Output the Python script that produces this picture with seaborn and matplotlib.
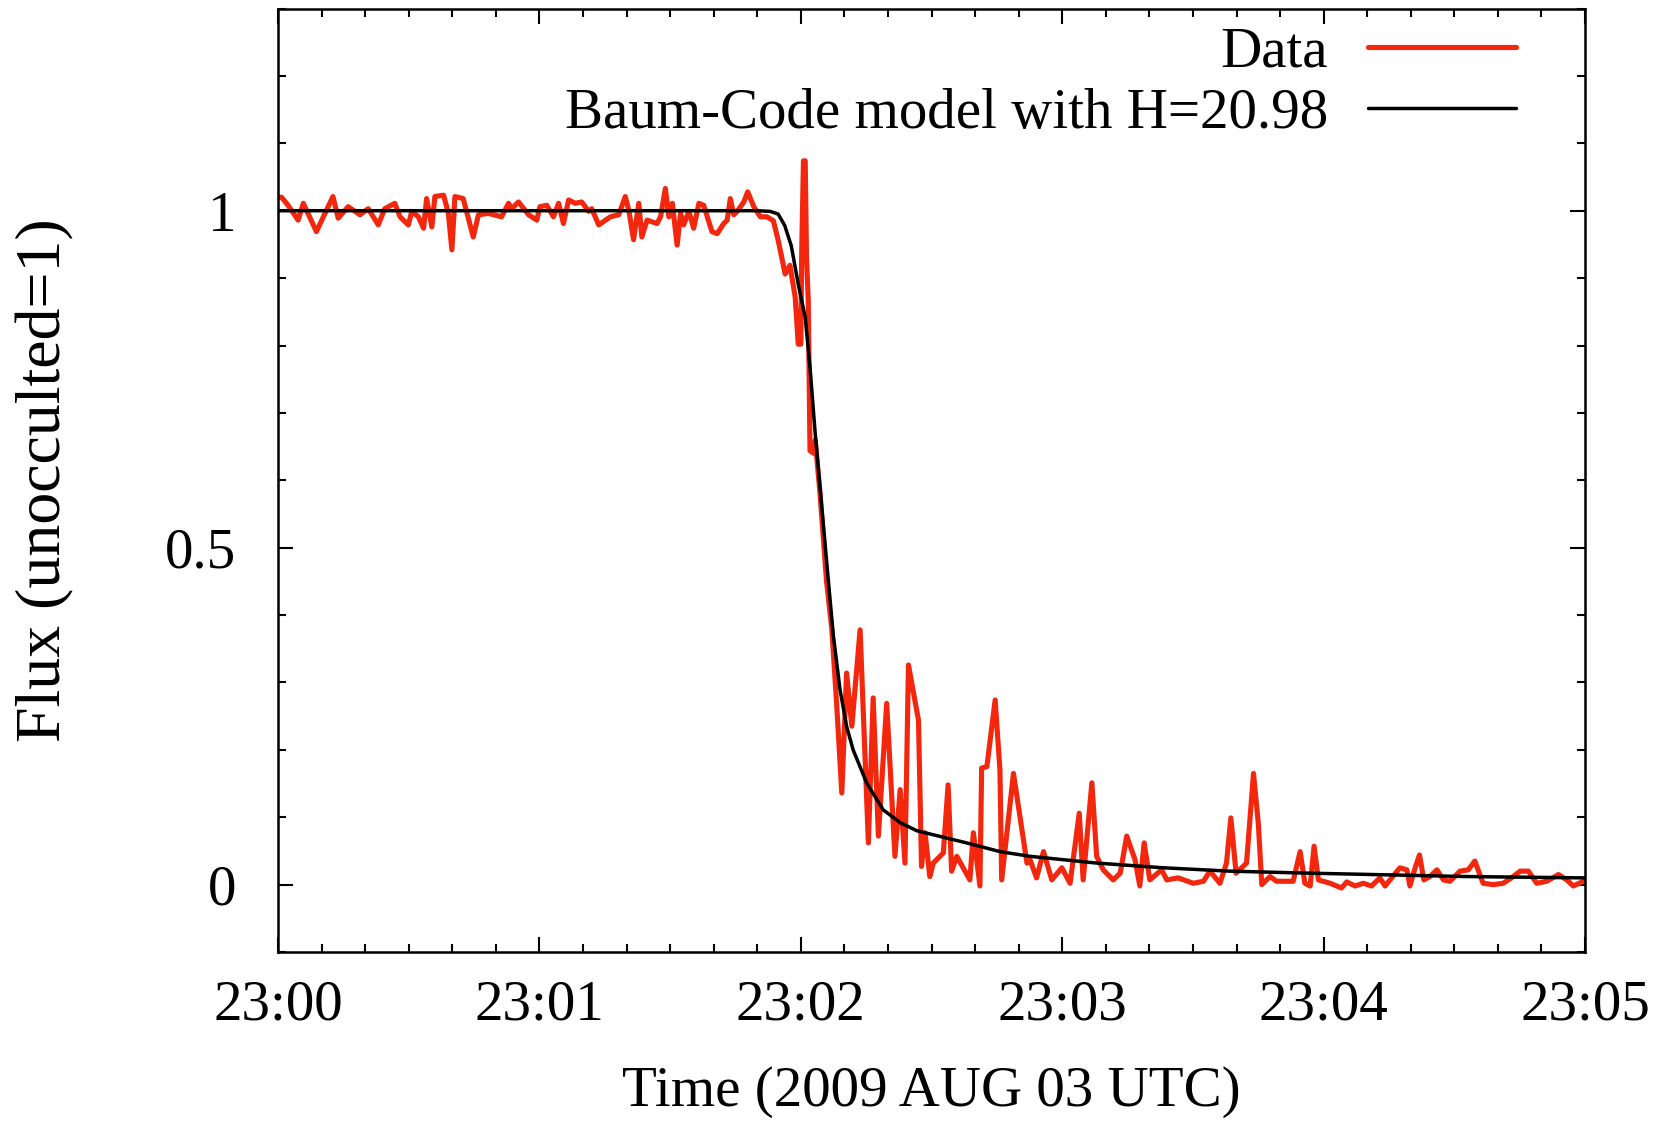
import matplotlib
matplotlib.use("Agg")
import matplotlib.pyplot as plt
import seaborn as sns
import pandas as pd
from matplotlib.ticker import MultipleLocator, FixedLocator

# Observed light curve: seconds after 23:00 UTC and normalized flux
data_time = [
    0, 0.8, 2.3, 4.6, 5.8, 8.8, 12.6, 13.8, 16.1, 18.8, 20.7, 23.0, 24.5, 26.8, 28.0,
    29.9, 30.7, 32.2, 33.4, 34.1, 35.3, 36.0, 38.0, 39.1, 39.9, 40.6, 42.5, 44.8, 46.0,
    48.3, 51.3, 52.9, 53.6, 55.2, 57.5, 59.4,
    60.1, 61.7, 63.2, 64.4, 65.5, 66.7, 68.2, 69.7, 71.3, 72.0, 73.6, 76.3, 78.2, 79.7,
    80.5, 81.6, 82.8, 83.5, 84.7, 87.0, 87.8, 88.9, 89.7, 90.5, 91.6, 92.4, 93.1, 94.3,
    95.4, 96.6, 97.7, 99.6, 100.8, 102.3, 103.1, 103.8, 104.6, 105.4, 106.9, 107.8,
    109.2, 110.7, 112.2,
    113.7, 114.8, 116.4, 117.5, 118.7, 119.4, 120.0, 120.2, 120.6, 121.0, 121.3, 121.7,
    122.1, 122.9, 123.3,
    124.4, 125.9, 127.1, 128.2, 129.4, 130.5, 131.7, 133.6, 135.5, 136.6, 137.8, 139.7,
    141.6, 142.8, 143.9, 144.7, 147.0, 147.7, 148.5, 149.6, 150.4, 152.7, 153.8, 154.6,
    155.8, 158.8, 159.6, 161.1, 161.5, 162.7, 164.6, 165.7, 166.1, 168.8, 171.9,
    172.6, 174.1, 175.7, 177.6, 179.9, 181.8, 183.9, 184.8, 186.8, 187.9, 189.4, 191.7,
    193.3, 194.8, 196.7, 197.8, 198.8, 200.1, 202.8, 204.0, 206.6, 210.1, 212.4, 213.9,
    216.2, 217.7, 218.7, 219.9, 222.3, 223.9, 225.0, 225.8, 227.7, 229.2, 233.0,
    234.6, 235.7, 236.9, 237.8, 238.8, 241.5, 244.1, 245.3, 247.2, 249.1, 251.0, 252.9,
    254.1, 257.5, 259.1, 259.8, 261.0, 262.0, 263.0, 264.4, 266.0, 267.5, 269.0, 271.3,
    273.2, 274.7, 276.6, 278.9, 281.2, 283.1, 285.1, 287.0, 288.9, 291.2, 293.9, 295.8,
    297.3, 299.6,
]
data_flux = [
    1.020, 1.020, 1.008, 0.986, 1.011, 0.969, 1.021, 0.989, 1.006, 0.994, 1.003, 0.979,
    1.003, 1.011, 0.991, 0.979, 0.999, 0.991, 0.974, 1.018, 0.976, 1.021, 1.023, 0.996,
    0.942, 1.021, 1.018, 0.961, 0.994, 0.996, 0.991, 1.011, 1.003, 1.013, 0.994, 0.986,
    1.006, 1.008, 0.991, 1.011, 0.981, 1.016, 1.011, 1.013, 0.999, 1.003, 0.979, 0.991,
    0.994, 1.021, 1.001, 0.957, 1.011, 0.961, 0.986, 0.981, 0.991, 1.033, 0.991, 1.011,
    0.949, 0.996, 0.979, 0.999, 0.974, 1.011, 1.008, 0.969, 0.966, 0.981, 0.986, 1.018,
    0.994, 0.999, 1.013, 1.028, 1.006, 0.991, 0.991,
    0.985, 0.956, 0.906, 0.919, 0.872, 0.802, 0.802, 0.941, 1.074, 1.074, 0.931, 0.867,
    0.644, 0.640, 0.660,
    0.580, 0.450, 0.380, 0.270, 0.136, 0.314, 0.235, 0.378, 0.062, 0.277, 0.072, 0.269,
    0.042, 0.141, 0.032, 0.326, 0.244, 0.027, 0.077, 0.012, 0.032, 0.047, 0.148, 0.020,
    0.042, 0.007, 0.077, -0.002, 0.173, 0.175, 0.274, 0.170, 0.007, 0.165, 0.032,
    0.037, 0.010, 0.049, 0.007, 0.025, 0.002, 0.106, 0.007, 0.151, 0.042, 0.022, 0.007,
    0.017, 0.072, 0.037, -0.002, 0.062, 0.007, 0.022, 0.007, 0.010, 0.002, 0.005, 0.020,
    0.002, 0.032, 0.099, 0.017, 0.032, 0.165, 0.091, 0.000, 0.012, 0.005, 0.005,
    0.049, 0.002, -0.002, 0.057, 0.007, 0.002, -0.005, 0.004, -0.002, 0.002, -0.002, 0.010,
    -0.002, 0.025, 0.022, -0.002, 0.025, 0.044, 0.007, 0.012, 0.022, 0.007, 0.005, 0.020,
    0.022, 0.035, 0.002, 0.000, 0.002, 0.010, 0.020, 0.020, 0.002, 0.005, 0.015, 0.007,
    -0.002, 0.005,
]

# Baum-Code model curve
model_time = [
    0, 110, 113, 114.8, 116.3, 117.8, 119.4, 121.0, 122.1, 123.3, 124.4, 125.9, 127.4,
    129.0, 130.5, 132.0, 135.1, 138.9, 142.8, 146.6, 150.4, 158.0, 165.7, 172.6, 187.9,
    203.2, 218.5, 236.8, 272.9, 300,
]
model_flux = [
    1.0, 1.0, 0.999, 0.995, 0.978, 0.948, 0.891, 0.842, 0.768, 0.669, 0.590, 0.481, 0.373,
    0.289, 0.235, 0.200, 0.151, 0.111, 0.092, 0.080, 0.074, 0.062, 0.049, 0.042, 0.032,
    0.025, 0.020, 0.017, 0.012, 0.010,
]

tick_seconds = [0, 60, 120, 180, 240, 300]
tick_labels = ["23:00", "23:01", "23:02", "23:03", "23:04", "23:05"]
ytick_values = [0, 0.5, 1]
ytick_labels = ["0", "0.5", "1"]

sns.set_style("ticks")
plt.rcParams["font.family"] = ["Liberation Serif", "DejaVu Serif"]
plt.rcParams["text.color"] = "black"
plt.rcParams["axes.labelcolor"] = "black"
plt.rcParams["xtick.color"] = "black"
plt.rcParams["ytick.color"] = "black"

FS = 41
fig = plt.figure(figsize=(16.62, 11.24), dpi=100)
fig.patch.set_facecolor("white")
ax = fig.add_axes([0.1673, 0.1530, 0.7864, 0.8394])

obs = pd.DataFrame({"t": data_time, "flux": data_flux})
mod = pd.DataFrame({"t": model_time, "flux": model_flux})

sns.lineplot(data=obs, x="t", y="flux", ax=ax, color="#f3260e", linewidth=3.7,
             estimator=None, sort=False, label="Data")
sns.lineplot(data=mod, x="t", y="flux", ax=ax, color="black", linewidth=2.5,
             estimator=None, sort=False, label="Baum-Code model with H=20.98")

ax.set_xlim(0, 300)
ax.set_ylim(-0.1, 1.3)

ax.xaxis.set_major_locator(FixedLocator(tick_seconds))
ax.set_xticklabels(tick_labels)
ax.xaxis.set_minor_locator(MultipleLocator(10))
ax.yaxis.set_major_locator(FixedLocator(ytick_values))
ax.set_yticklabels(ytick_labels)
ax.yaxis.set_minor_locator(MultipleLocator(0.1))

ax.tick_params(which="both", direction="in", top=True, right=True, width=1.5,
               colors="black")
ax.tick_params(which="major", length=11)
ax.tick_params(which="minor", length=5.5)
ax.tick_params(axis="x", which="major", labelsize=FS, pad=20)
ax.tick_params(axis="y", which="major", labelsize=FS, pad=30)

for sp in ax.spines.values():
    sp.set_linewidth(1.8)
    sp.set_color("black")
    sp.set_visible(True)

ax.set_xlabel("Time (2009 AUG 03 UTC)", fontsize=FS, color="black")
ax.set_ylabel("Flux (unocculted=1)", fontsize=46, color="black")
ax.xaxis.label.set_va("center")
ax.yaxis.label.set_va("center")
ax.xaxis.set_label_coords(0.5, -0.148)
ax.yaxis.set_label_coords(-0.178, 0.5)

leg = ax.legend(loc="upper right", bbox_to_anchor=((1516 - 278) / 1307, 0.981),
                frameon=False, fontsize=FS, markerfirst=False, handlelength=2.6,
                handletextpad=0.7, labelspacing=0.16, borderpad=0, borderaxespad=0)
for txt in leg.get_texts():
    txt.set_ha("right")
    txt.set_color("black")
leg._legend_box.align = "right"

fig.savefig("out.png", dpi=100, facecolor="white")
